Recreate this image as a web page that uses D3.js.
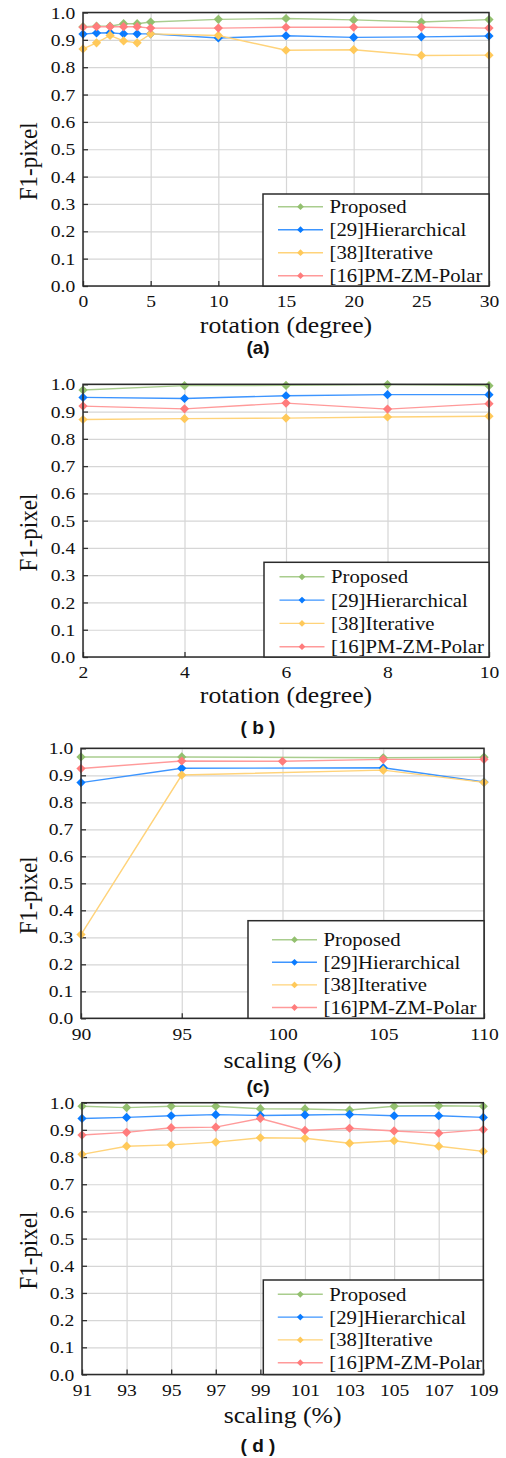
<!DOCTYPE html>
<html>
<head>
<meta charset="utf-8">
<script src="https://cdn.jsdelivr.net/npm/d3@7"></script>
<style>
  html, body { margin: 0; padding: 0; background: #fff; }
  svg { display: block; }
  .serif { font-family: "Liberation Serif", "Times New Roman", Tinos, "DejaVu Serif", "Noto Serif", serif; }
  .sans { font-family: "Liberation Sans", Arial, Arimo, "DejaVu Sans", sans-serif; }
</style>
</head>
<body>
<svg id="chart" width="506" height="1458"></svg>
<script>
// ---------- DATA ----------
const seriesNames = ["Proposed", "[29]Hierarchical", "[38]Iterative", "[16]PM-ZM-Polar"];
const yTicks = [0, 0.1, 0.2, 0.3, 0.4, 0.5, 0.6, 0.7, 0.8, 0.9, 1.0];

// Panel (a): rotation 0..30
const rotA = [0, 1, 2, 3, 4, 5, 10, 15, 20, 25, 30];
const rotATicks = [0, 5, 10, 15, 20, 25, 30];
const aProposed     = [0.948, 0.950, 0.950, 0.959, 0.959, 0.965, 0.975, 0.978, 0.973, 0.965, 0.974];
const aHierarchical = [0.921, 0.925, 0.926, 0.922, 0.922, 0.922, 0.907, 0.915, 0.909, 0.911, 0.914];
const aIterative    = [0.867, 0.889, 0.916, 0.896, 0.889, 0.922, 0.916, 0.862, 0.864, 0.843, 0.844];
const aPolar        = [0.946, 0.948, 0.948, 0.948, 0.948, 0.943, 0.943, 0.946, 0.946, 0.946, 0.943];

// Panel (b): rotation 2..10
const rotB = [2, 4, 6, 8, 10];
const rotBTicks = [2, 4, 6, 8, 10];
const bProposed     = [0.979, 0.995, 0.996, 0.999, 0.995];
const bHierarchical = [0.952, 0.948, 0.958, 0.962, 0.962];
const bIterative    = [0.871, 0.874, 0.876, 0.880, 0.883];
const bPolar        = [0.920, 0.910, 0.931, 0.909, 0.929];

// Panel (c): scaling 90..110
const scaleC = [90, 95, 100, 105, 110];
const scaleCTicks = [90, 95, 100, 105, 110];
const cProposed     = [0.968, 0.968, null, 0.965, 0.967];
const cHierarchical = [0.873, 0.926, null, 0.928, 0.875];
const cIterative    = [0.310, 0.901, null, 0.919, 0.874];
const cPolar        = [0.925, 0.953, 0.952, 0.959, 0.959];

// Panel (d): scaling 91..109
const scaleD = [91, 93, 95, 97, 99, 101, 103, 105, 107, 109];
const scaleDTicks = [91, 93, 95, 97, 99, 101, 103, 105, 107, 109];
const dProposed     = [0.987, 0.982, 0.987, 0.987, 0.978, 0.977, 0.973, 0.987, 0.989, 0.987];
const dHierarchical = [0.942, 0.946, 0.952, 0.956, 0.953, 0.955, 0.957, 0.952, 0.952, 0.946];
const dIterative    = [0.810, 0.840, 0.845, 0.855, 0.871, 0.869, 0.851, 0.860, 0.840, 0.821];
const dPolar        = [0.881, 0.891, 0.908, 0.910, 0.942, 0.898, 0.906, 0.896, 0.888, 0.901];

const xLabels = ["rotation (degree)", "rotation (degree)", "scaling (%)", "scaling (%)"];
const panelTitles = ["(a)", "( b )", "(c)", "( d )"];
const yLabel = "F1-pixel";

// ---------- STYLE / LAYOUT ----------
const markerColors = ["#93c06f", "#0a7bff", "#ffc95a", "#ff7c7c"];
const lineColors   = ["#a9cd8e", "#3d95ff", "#ffd37a", "#ff9a9a"];
const SX = 1.12; // horizontal stretch of text in the reference

const panels = [
  { x: rotA, ticks: rotATicks, series: [aProposed, aHierarchical, aIterative, aPolar],
    l: 83, r: 489, t: 12.5, b: 286, xl: 39, tt: 61, leg: { l: 263, t: 194, first: 12.7, step: 23, ind: 0 } },
  { x: rotB, ticks: rotBTicks, series: [bProposed, bHierarchical, bIterative, bPolar],
    l: 83, r: 489, t: 384.3, b: 657, xl: 38, tt: 70, leg: { l: 264, t: 562.3, first: 14.5, step: 23.3, ind: 0.5 } },
  { x: scaleC, ticks: scaleCTicks, series: [cProposed, cHierarchical, cIterative, cPolar],
    l: 81, r: 484, t: 748.3, b: 1018.3, xl: 42, tt: 68, leg: { l: 248, t: 920.7, first: 19, step: 22.6, ind: 9 } },
  { x: scaleD, ticks: scaleDTicks, series: [dProposed, dHierarchical, dIterative, dPolar],
    l: 82, r: 483.3, t: 1102.7, b: 1374.5, xl: 40.5, tt: 70.5, leg: { l: 263.3, t: 1280, first: 14.3, step: 22.8, ind: -0.5 } }
];

const svg = d3.select("#chart");
svg.append("rect").attr("width", 506).attr("height", 1458).attr("fill", "#fff");

function diamond(r) { return `M0,${-r}L${r},0L0,${r}L${-r},0Z`; }

panels.forEach((p, pi) => {
  const xs = d3.scaleLinear().domain(d3.extent(p.ticks)).range([p.l, p.r]);
  const ys = d3.scaleLinear().domain([0, 1]).range([p.b, p.t]);
  const g = svg.append("g");

  // grid
  g.append("g").attr("transform", `translate(0,${p.b})`)
    .call(d3.axisBottom(xs).tickValues(p.ticks).tickSize(-(p.b - p.t)).tickFormat(""))
    .call(s => s.select(".domain").remove())
    .call(s => s.selectAll("line").attr("stroke", "#d6d6d6").attr("stroke-width", 1.2));
  g.append("g").attr("transform", `translate(${p.l},0)`)
    .call(d3.axisLeft(ys).tickValues(yTicks).tickSize(-(p.r - p.l)).tickFormat(""))
    .call(s => s.select(".domain").remove())
    .call(s => s.selectAll("line").attr("stroke", "#d6d6d6").attr("stroke-width", 1.2));

  // axes
  const ax = g.append("g").attr("transform", `translate(0,${p.b})`)
    .call(d3.axisBottom(xs).tickValues(p.ticks).tickSize(-5).tickSizeOuter(0).tickPadding(9).tickFormat(d3.format("d")));
  const ay = g.append("g").attr("transform", `translate(${p.l},0)`)
    .call(d3.axisLeft(ys).tickValues(yTicks).tickSize(-5).tickSizeOuter(0).tickPadding(7).tickFormat(d3.format(".1f")));
  [ax, ay].forEach(a => {
    a.attr("font-family", null).attr("font-size", null);
    a.select(".domain").remove();
    a.selectAll("line").attr("stroke", "#333").attr("stroke-width", 1.3);
    a.selectAll("text").attr("class", "serif").attr("font-size", 17.5).attr("fill", "#111")
      .attr("transform", `scale(${SX},1)`);
  });

  // series
  p.series.forEach((vals, si) => {
    const pts = p.x.map((xv, i) => ({ x: xv, y: vals[i] })).filter(d => d.y != null);
    g.append("path").datum(pts)
      .attr("fill", "none").attr("stroke", lineColors[si]).attr("stroke-width", 1.4)
      .attr("d", d3.line().x(d => xs(d.x)).y(d => ys(d.y)));
    g.selectAll(null).data(pts).enter().append("path")
      .attr("d", diamond(4.6))
      .attr("transform", d => `translate(${xs(d.x)},${ys(d.y)})`)
      .attr("fill", markerColors[si]);
  });

  // frame
  g.append("rect").attr("x", p.l).attr("y", p.t).attr("width", p.r - p.l).attr("height", p.b - p.t)
    .attr("fill", "none").attr("stroke", "#2b2b2b").attr("stroke-width", 1.5);

  // legend
  const L = p.leg;
  const lg = g.append("g");
  lg.append("rect").attr("x", L.l).attr("y", L.t).attr("width", p.r - L.l).attr("height", p.b - L.t)
    .attr("fill", "#fff").attr("stroke", "#2b2b2b").attr("stroke-width", 1.5);
  const lx = L.l + L.ind;
  seriesNames.forEach((name, si) => {
    const yy = L.t + L.first + si * L.step;
    lg.append("line").attr("x1", lx + 15).attr("x2", lx + 60).attr("y1", yy).attr("y2", yy)
      .attr("stroke", lineColors[si]).attr("stroke-width", 1.4);
    lg.append("path").attr("d", diamond(3.4)).attr("transform", `translate(${lx + 37.5},${yy})`)
      .attr("fill", markerColors[si]);
    lg.append("text").attr("class", "serif").attr("transform", `translate(${lx + 66.5},${yy}) scale(${SX},1)`)
      .attr("dy", "0.35em").attr("font-size", 18.5).attr("fill", "#111")
      .text(name);
  });

  // axis labels
  g.append("text").attr("class", "serif")
    .attr("transform", `translate(${(p.l + p.r) / 2},${p.b + p.xl}) scale(${SX},1)`)
    .attr("text-anchor", "middle").attr("dy", "0.35em")
    .attr("font-size", 23).attr("fill", "#111").text(xLabels[pi]);
  g.append("text").attr("class", "serif")
    .attr("transform", `translate(28,${(p.t + p.b) / 2 + 12}) rotate(-90) scale(1,${SX})`)
    .attr("text-anchor", "middle").attr("dy", "0.35em")
    .attr("font-size", 23).attr("fill", "#111").text(yLabel);

  // panel title
  g.append("text").attr("class", "sans").attr("x", 258).attr("y", p.b + p.tt).attr("dy", "0.35em")
    .attr("text-anchor", "middle").attr("font-weight", "bold")
    .attr("font-size", 19).attr("fill", "#111").text(panelTitles[pi]);
});
</script>
</body>
</html>
